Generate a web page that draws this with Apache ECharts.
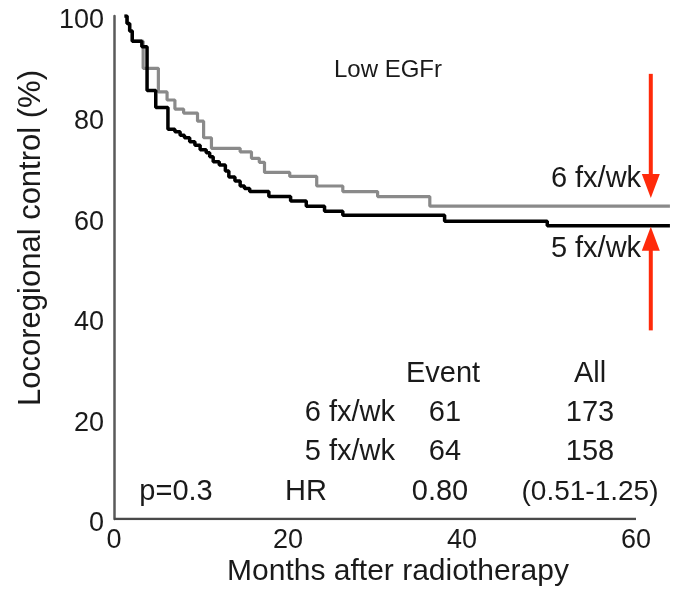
<!DOCTYPE html>
<html>
<head>
<meta charset="utf-8">
<script src="https://cdn.jsdelivr.net/npm/echarts@6/dist/echarts.min.js"></script>
<style>
html,body{margin:0;padding:0;background:#fff;}
#chart{width:683px;height:590px;}
</style>
</head>
<body>
<div id="chart"></div>
<script>
// ---- data (months after radiotherapy, locoregional control %) ----
const sixFxTime = [1.2, 1.5, 1.8, 2.1, 3.35, 5.1, 6.1, 7.0, 8.0, 9.6, 10.3, 11.2, 14.5, 15.8, 16.7, 17.3, 20.2, 23.3, 26.3, 30.3, 36.3, 63.9];
const sixFxSurv = [100, 98.5, 97, 95, 89.6, 84.9, 83.3, 81.5, 80.7, 79.1, 75.8, 73.7, 73.0, 71.7, 70.9, 68.9, 68.1, 66.2, 65.1, 64.1, 62.2, 62.2];
const fiveFxTime = [1.2, 1.5, 1.8, 2.1, 3.2, 3.8, 4.8, 6.2, 7.0, 7.6, 8.1, 8.7, 9.3, 9.9, 10.6, 11.0, 11.4, 12.1, 12.8, 13.2, 13.9, 14.5, 15.0, 15.6, 17.8, 20.3, 22.1, 24.2, 26.3, 38.0, 49.8, 63.9];
const fiveFxSurv = [100, 98.5, 97, 95, 93.9, 85.2, 81.8, 77.5, 77.0, 76.3, 75.8, 75.0, 74.3, 73.4, 72.8, 72.0, 71.0, 70.4, 69.2, 68.0, 67.2, 66.2, 65.7, 65.1, 64.1, 63.2, 62.2, 61.2, 60.4, 59.2, 58.3, 58.3];
const xTicks = [0, 20, 40, 60];
const yTicks = [0, 20, 40, 60, 80, 100];
const xExtent = [0, 64];          // data range shown (curves run past the last tick)
// arrows (annotations): [x, from y, to y]
const arrowDown = [61.7, 88.5, 66.2];
const arrowUp = [61.7, 37.5, 55.7];
// table
const tableHeader = ['Event', 'All'];
const tableGroups = ['6 fx/wk', '5 fx/wk'];
const tableEvents = [61, 64];
const tableAll = [173, 158];
const statP = 'p=0.3';
const statHR = 'HR';
const statHRValue = '0.80';
const statCI = '(0.51-1.25)';

const FONT = '"Liberation Sans", Arial, Helvetica, sans-serif';
const chart = echarts.init(document.getElementById('chart'), null, {renderer: 'canvas'});

function pairs(t, s) { return t.map((v, i) => [v, s[i]]); }
function arrowData(a) {
  return [
    {value: [a[0], a[1]], symbol: 'none'},
    {value: [a[0], a[2]], symbol: 'triangle', symbolSize: [18, 24], symbolRotate: a[2] < a[1] ? 180 : 0}
  ];
}
function txt(text, x, y, size, align) {
  return {type: 'text', x: x, y: y, silent: true,
    style: {text: text, font: size + 'px ' + FONT, fill: '#1a1a1a', align: align || 'center', verticalAlign: 'middle'}};
}

const TS = 29;
const graphics = [
  txt('Low EGFr', 388, 70, 24),
  txt('6 fx/wk', 596, 179, TS),
  txt('5 fx/wk', 596, 249, TS),
  txt(tableHeader[0], 443, 374, TS),
  txt(tableHeader[1], 590, 374, TS),
  txt(tableGroups[0], 395, 413, TS, 'right'),
  txt(String(tableEvents[0]), 445, 413, TS),
  txt(String(tableAll[0]), 590, 413, TS),
  txt(tableGroups[1], 395, 452, TS, 'right'),
  txt(String(tableEvents[1]), 445, 452, TS),
  txt(String(tableAll[1]), 590, 452, TS),
  txt(statP, 176, 492, TS),
  txt(statHR, 306, 492, TS),
  txt(statHRValue, 440, 492, TS),
  txt(statCI, 590, 492, 28),
  txt('Months after radiotherapy', 398, 572, 30),
  Object.assign(txt('Locoregional control (%)', 31, 238, 31), {rotation: Math.PI / 2})
];

chart.setOption({
  animation: false,
  backgroundColor: '#fff',
  grid: {left: 114, right: 12.2, top: 16, bottom: 71, containLabel: false},
  xAxis: {
    type: 'value', min: xExtent[0], max: xExtent[1], interval: 20,
    axisLine: {show: false},
    axisTick: {show: false}, splitLine: {show: false},
    axisLabel: {color: '#1a1a1a', fontSize: 27, fontFamily: FONT, margin: 8,
      showMaxLabel: false,
      formatter: v => (xTicks.indexOf(v) >= 0 ? String(v) : '')}
  },
  yAxis: {
    type: 'value', min: yTicks[0], max: yTicks[yTicks.length - 1], interval: 20,
    axisLine: {show: true, lineStyle: {color: '#5a5a5a', width: 2.5}},
    axisTick: {show: false}, splitLine: {show: false},
    axisLabel: {margin: 10,
      formatter: v => '{a|' + v + '}',
      rich: {a: {color: '#1a1a1a', fontSize: 27, fontFamily: FONT, padding: [10, 0, 0, 0]}}}
  },
  graphic: graphics,
  series: [
    {name: 'xAxisLine', type: 'line', symbol: 'none', silent: true,
     data: [[xTicks[0], 0], [xTicks[xTicks.length - 1], 0]],
     lineStyle: {color: '#4a4a4a', width: 2.5}, z: 1},
    {name: '6 fx/wk', type: 'line', step: 'end', showSymbol: false, symbol: 'none',
     data: pairs(sixFxTime, sixFxSurv), lineStyle: {color: '#8a8a8a', width: 3.2}, z: 2},
    {name: '5 fx/wk', type: 'line', step: 'end', showSymbol: false, symbol: 'none',
     data: pairs(fiveFxTime, fiveFxSurv), lineStyle: {color: '#000', width: 3.5}, z: 3},
    {name: 'arrowDown', type: 'line', clip: false, data: arrowData(arrowDown),
     lineStyle: {color: '#ff2a0a', width: 4}, itemStyle: {color: '#ff2a0a'}, z: 4},
    {name: 'arrowUp', type: 'line', clip: false, data: arrowData(arrowUp),
     lineStyle: {color: '#ff2a0a', width: 4}, itemStyle: {color: '#ff2a0a'}, z: 4}
  ]
});
</script>
</body>
</html>
